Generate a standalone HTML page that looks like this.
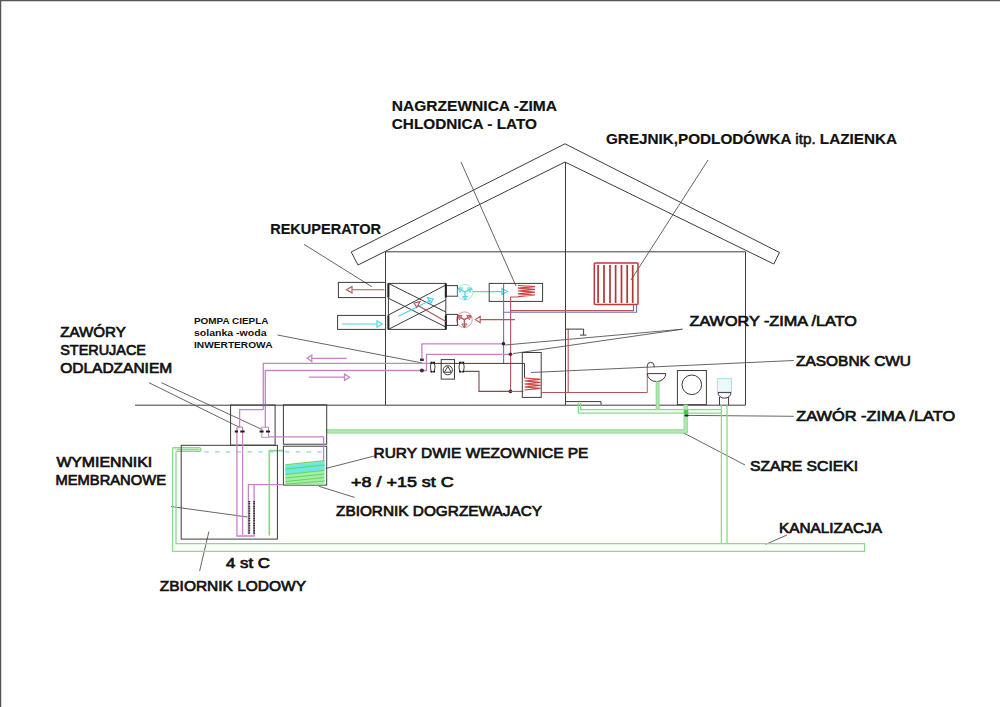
<!DOCTYPE html>
<html><head><meta charset="utf-8"><title>Schemat</title>
<style>
html,body{margin:0;padding:0;background:#fff;}
body{width:1000px;height:707px;overflow:hidden;}
svg{display:block;}
text{font-family:"Liberation Sans",sans-serif;fill:#111;}
.b{font-weight:bold;}
.t{font-size:14.8px;stroke:#111;stroke-width:0.7;}
.t.b{stroke-width:0.2;}
.s{font-size:8.6px;font-weight:bold;}
.k{stroke:#3c3c3c;stroke-width:1;fill:none;}
.l{stroke:#555;stroke-width:0.9;fill:none;}
.m{stroke:#c683c6;stroke-width:1.3;fill:none;}
.r{stroke:#b25656;stroke-width:1.1;fill:none;}
.c{stroke:#4fd8e0;stroke-width:1.2;fill:none;}
.u{stroke:#7070b0;stroke-width:1.1;fill:none;}
.g{stroke:#8cd88c;stroke-width:1.3;fill:none;}
</style></head>
<body>
<svg width="1000" height="707" viewBox="0 0 1000 707">
<rect x="0" y="0" width="1000" height="707" fill="#fff"/>
<!-- border -->
<path d="M0 0.6H1000M0.6 0V707" stroke="#555" stroke-width="1.3" fill="none"/>

<!-- roof -->
<path class="k" d="M351.2 252 L565 143.8 L779.5 252.5 L773.8 264 L565 162 L358 265 Z"/>
<!-- walls -->
<path class="k" d="M385.5 405V251.8H745.5V405M565.5 162V405"/>
<!-- ground -->
<path class="k" d="M135 405.2H745.5"/>

<!-- leaders -->
<g class="l">
<path d="M461 162L516 286"/>
<path d="M708 160L631 280"/>
<path d="M304 244.3L371.8 286.7"/>
<path d="M277.5 335L422.4 363"/>
<path d="M505.2 345L682.4 329.2M512.9 353.6L682.4 329.2"/>
<path d="M531 372.5L793.8 360.5"/>
<path d="M688 415.4L793.8 416.3"/>
<path d="M681.5 431.8L745 465"/>
<path d="M787 535L765.6 544.4"/>
<path d="M325.7 468.5L374.7 455.9"/>
<path d="M319 486.3L354.6 497.4"/>
<path d="M171 506.5L247.4 517"/>
<path d="M208.9 531.6L199.6 571.1"/>
<path d="M148.9 382.7L239.7 427.4M161.4 382.7L262.4 429.7"/>
</g>

<!-- rekuperator -->
<g class="k">
<rect x="338.4" y="282.4" width="47.2" height="15.2"/>
<rect x="337.6" y="315.4" width="48" height="14"/>
<rect x="388.4" y="283.4" width="57.4" height="46"/>
<path d="M388.4 283.4L445.8 312M388.4 298.2L445.8 327M388.4 315L445.8 285M388.4 329.4L445.8 300"/>
<rect x="446" y="285.6" width="11.4" height="10.6"/>
<rect x="446" y="314.4" width="11.4" height="11"/>
</g>
<path d="M388.4 283.4V297.6M388.4 315.4V329.4M445.8 283.4V297.6M445.8 315.4V329.4" stroke="#222" stroke-width="2" fill="none"/>
<!-- arrows in ducts -->
<path class="r" d="M352 289.8H384.4M352 286.6L346.5 289.8L352 293Z"/>
<path class="c" d="M342 324H377M377 320.8L382.2 324L377 327.2Z"/>
<path class="c" d="M398.4 316.2L431 300M427.6 297.6L433.2 298.8L430.6 303.6Z"/>
<path class="r" d="M445.8 321.6L418 305.4M420 301.6L414 303L416.8 307.4Z"/>
<!-- fans -->
<!-- fans -->
<circle cx="465.0" cy="292.2" r="7.8" fill="none" stroke="#5fd6de" stroke-width="0.8" opacity="0.75"/>
<path d="M465.0 292.2L458.25 288.30M465.0 292.2L471.75 288.30M465.0 292.2L465.00 300.00" stroke="#5fd6de" stroke-width="1.4" fill="none"/>
<path d="M458.25 288.30L462.58 287.80L459.98 292.31ZM471.75 288.30L470.02 292.31L467.42 287.80ZM465.00 300.00L462.40 296.49L467.60 296.49Z" stroke="#5fd6de" stroke-width="1" fill="none"/>
<circle cx="464.4" cy="319.7" r="7.8" fill="none" stroke="#b45a5a" stroke-width="0.8" opacity="0.75"/>
<path d="M464.4 319.7L457.65 315.80M464.4 319.7L471.15 315.80M464.4 319.7L464.40 327.50" stroke="#b45a5a" stroke-width="1.4" fill="none"/>
<path d="M457.65 315.80L461.98 315.30L459.38 319.81ZM471.15 315.80L469.42 319.81L466.82 315.30ZM464.40 327.50L461.80 323.99L467.00 323.99Z" stroke="#b45a5a" stroke-width="1" fill="none"/>
<path class="c" d="M472.8 291.6H502M502 288.6L507.2 291.6L502 294.6Z"/>
<path class="r" d="M480.2 319.6H515M480.2 316.4L475.4 319.6L480.2 322.8Z"/>

<!-- nagrzewnica -->
<rect class="k" x="489.2" y="283.4" width="53.4" height="18"/>
<path class="u" d="M503.6 283.8V363.4"/>
<path d="M518 285.5L535 286.6L518 288.2L535 289.4L518 291L535 292.2L518 293.8L535 295L518 296.6" stroke="#cc4040" stroke-width="1.2" fill="none"/>
<path class="r" d="M518 297H510.6V391.4"/>
<path class="r" d="M510.6 310.6H633.5V304.6"/>
<path class="u" d="M503.6 312.2H636.6V304.6"/>

<!-- radiator -->
<rect x="594.3" y="262.9" width="43.7" height="41.7" fill="none" stroke="#c03838" stroke-width="1.5" rx="1"/>
<path d="M598.1 265V303M604 265V303M610 265V303M615.6 265V303M621.5 265V303M627.2 265V303M632.7 265V303" stroke="#b83434" stroke-width="1.7"/>

<!-- pump area -->
<path class="m" d="M263.3 409.7V363.3H430"/>
<path class="m" d="M265.3 427.2V370.5H426.5V354.3H510.5"/>
<path class="m" d="M421.9 359.6V343.8H503.5"/>
<path class="m" d="M311.8 358.3H346.8M311.8 355L307.2 358.3L311.8 361.6Z"/>
<path class="m" d="M309 377.2H344.5M344.5 374.1L349.5 377.2L344.5 380.3Z"/>
<rect x="420" y="358.6" width="3.8" height="2.4" fill="#333"/>
<circle cx="421.9" cy="370.6" r="2" fill="#333"/>
<circle cx="503.5" cy="343.8" r="1.8" fill="#223"/>
<circle cx="510.5" cy="354.2" r="1.8" fill="#622"/>
<circle cx="510.5" cy="391.4" r="1.8" fill="#422"/>
<path class="k" d="M430 363.4H524.5V377.7"/>
<path d="M431.2 362.3Q429.6 367 431.2 371.8M434.2 362.3Q435.8 367 434.2 371.8M431.2 362.3H434.2M431.2 371.8H434.2" stroke="#444" stroke-width="1" fill="#fff"/>
<path d="M459.8 362.3Q458.2 367 459.8 371.8M463.4 362.3Q465 367 463.4 371.8M459.8 362.3H463.4M459.8 371.8H463.4" stroke="#444" stroke-width="1" fill="#fff"/>
<path d="M430.6 361.8h1.6v1.6h-1.6zM433.4 361.8h1.6v1.6h-1.6zM430.6 370.8h1.6v1.6h-1.6zM433.4 370.8h1.6v1.6h-1.6zM459.2 361.8h1.6v1.6h-1.6zM462.6 361.8h1.6v1.6h-1.6zM459.2 370.8h1.6v1.6h-1.6zM462.6 370.8h1.6v1.6h-1.6z" fill="#111"/>
<rect class="k" x="441.2" y="359.6" width="13.3" height="19.5" fill="#fff"/>
<circle class="k" cx="447.8" cy="370.2" r="4.6"/>
<path class="k" d="M447.8 366.4L451.2 372.2H444.4Z"/>
<path d="M464 371.4H479V391.4H510.6" stroke="#7e4a4e" stroke-width="1.1" fill="none"/>
<path class="r" d="M510.6 391.4H523.4"/>

<!-- zasobnik -->
<rect class="k" x="522.3" y="352.5" width="18.9" height="44.9"/>
<path d="M524.5 378L540.5 379.4L524.5 381L540.5 382.4L524.5 384L540.5 385.4L524.5 387L540.5 388.4L524.5 390" stroke="#cc4040" stroke-width="1.1" fill="none"/>
<path class="r" d="M541.2 392.5H647.3"/>
<path d="M647.3 392.5V367" stroke="#9a7a80" stroke-width="1.1" fill="none"/>
<path class="r" d="M568.2 329V392"/>
<path class="k" d="M565.7 329.1H583.6V335.1M580 335.1H586.4"/>
<path class="k" d="M565.7 401.6H601V404.7"/>

<!-- washbasin, washing machine, toilet -->
<path class="k" d="M647.3 367.5V365.8A3.4 3.4 0 0 1 654.1 365.8V367.3"/>
<path class="k" d="M647.3 373.6H665.8A9.25 8 0 0 1 647.3 373.6Z"/>
<rect class="k" x="677.4" y="370.5" width="29" height="34.2"/>
<circle class="k" cx="691.8" cy="384.8" r="9.8"/>
<rect x="717.4" y="378.7" width="14.1" height="13.3" fill="#e8fafc" stroke="#a4e4ec" stroke-width="1"/>
<path class="k" d="M718 392.6H731A6.5 5.6 0 0 1 718 392.6ZM719.5 397V405M728.6 397V405"/>

<!-- green pipes -->
<g class="g">
<path d="M578.3 403V413.1H721M580.7 403V409.7H721"/>
<path d="M657.6 381.6V409.7" stroke="#b2e8b2" stroke-width="3.2"/>
<path d="M656.2 381.6V409.7M659 381.6V409.7" stroke-width="1"/>
<path d="M685.7 404.7V431.4H326.7" stroke="#b6eab6" stroke-width="3.4"/>
<path d="M684.1 404.7V429.8H326.7M687.3 404.7V433H326.7" stroke-width="1"/>
<path d="M721.4 405V543.6M727 405V543.6"/>
<path d="M172.6 447.6V551.4H864.6V543.6H176V451.4"/>
<path d="M172.6 447.6H199A1.9 1.9 0 0 1 199 451.4H176" fill="#d4f4d4"/>
<path d="M177 449.6H199" stroke="#7cc88c" stroke-width="0.8"/>
<path d="M269.3 535.6V450.6H283.4" stroke-width="1.7"/>
</g>
<circle cx="686.1" cy="411.9" r="2.4" fill="#3fd23f"/>
<rect x="684.4" y="414.4" width="4.2" height="2.2" rx="1" fill="#1e1e1e"/>

<!-- underground boxes -->
<rect class="k" x="230.6" y="405" width="44.5" height="40.2"/>
<rect class="k" x="181.2" y="445.3" width="96.2" height="93.8"/>
<rect class="k" x="283.4" y="404.8" width="43.3" height="39.4"/>
<rect class="k" x="283.4" y="446.2" width="43.3" height="38.9"/>
<path d="M204.2 451.9H276.5M285 451.8H323" stroke="#8fd3dc" stroke-width="1.3" stroke-dasharray="4.5,6.3"/>
<!-- heating tank coil -->
<path d="M285.4 464.7L324.5 460.6V484.6H285.4Z" fill="#a6eda6"/>
<path d="M285.4 465.8L324.5 461.6V470.2L285.4 474.2Z" fill="#6fe6e6"/>
<path d="M285.4 464.7L324.5 460.6M285.4 469L324.5 465M285.4 474.5L324.5 470.4M285.4 478L324.5 474M285.4 481.5L324.5 477.5M285.4 484.2L324.5 481" stroke="#5fd85f" stroke-width="1" fill="none"/>
<!-- magenta underground -->
<path class="m" d="M263.3 409.7H239.6V427.2M236.9 427.2H242.6M236.9 427.2V536H254.1V484.8M242.6 427.2V535"/>
<path class="m" d="M268.5 436.9H323.6V460.6"/>
<path class="m" d="M283.4 484.6H248.4V534.2"/>
<rect x="261.8" y="427.2" width="6.7" height="10.1" fill="none" stroke="#c08ac0" stroke-width="1"/>
<!-- valves -->
<path d="M234.8 430.4H238V432.6H234.8ZM240.3 430.4H244.6V432.6H240.3ZM259.6 430.4H263.6V432.6H259.6ZM266 430.4H270V432.6H266Z" fill="#1a1a1a"/>
<!-- membrane -->
<path d="M249.3 501V534M254.1 501V534" stroke="#333" stroke-width="1.8" stroke-dasharray="1.2,0.5"/>

<!-- labels -->
<text class="t b" x="391.8" y="111" textLength="165.2" lengthAdjust="spacingAndGlyphs">NAGRZEWNICA -ZIMA</text>
<text class="t b" x="391.8" y="129" textLength="145.2" lengthAdjust="spacingAndGlyphs">CHLODNICA - LATO</text>
<text class="t b" x="606.0" y="144" textLength="291.0" lengthAdjust="spacingAndGlyphs">GREJNIK,PODLODÓWKA <tspan style="font-weight:normal;stroke-width:0.55">itp.</tspan> LAZIENKA</text>
<text class="t b" x="270.2" y="233.9" textLength="110.7" lengthAdjust="spacingAndGlyphs">REKUPERATOR</text>
<text class="s" x="194.0" y="324" textLength="74.5" lengthAdjust="spacingAndGlyphs">POMPA CIEPLA</text>
<text class="s" x="194.0" y="336.2" textLength="72.5" lengthAdjust="spacingAndGlyphs">solanka -woda</text>
<text class="s" x="194.0" y="348" textLength="78.5" lengthAdjust="spacingAndGlyphs">INWERTEROWA</text>
<text class="t" x="60.2" y="337.4" textLength="65.6" lengthAdjust="spacingAndGlyphs">ZAWÓRY</text>
<text class="t" x="60.2" y="355" textLength="85.8" lengthAdjust="spacingAndGlyphs">STERUJACE</text>
<text class="t" x="60.2" y="373" textLength="112.0" lengthAdjust="spacingAndGlyphs">ODLADZANIEM</text>
<text class="t" x="689.5" y="326.3" textLength="167.4" lengthAdjust="spacingAndGlyphs">ZAWORY -ZIMA /LATO</text>
<text class="t" x="796.1" y="365.8" textLength="114.9" lengthAdjust="spacingAndGlyphs">ZASOBNK CWU</text>
<text class="t" x="796.2" y="420.5" textLength="159.0" lengthAdjust="spacingAndGlyphs">ZAWÓR -ZIMA /LATO</text>
<text class="t" x="750.0" y="470.6" textLength="108.0" lengthAdjust="spacingAndGlyphs">SZARE SCIEKI</text>
<text class="t" x="779.0" y="533" textLength="103.0" lengthAdjust="spacingAndGlyphs">KANALIZACJA</text>
<text class="t" x="373.5" y="458" textLength="214.9" lengthAdjust="spacingAndGlyphs">RURY DWIE WEZOWNICE PE</text>
<text class="t" x="351.0" y="487.1" textLength="102.8" lengthAdjust="spacingAndGlyphs">+8 / +15 st C</text>
<text class="t" x="336.0" y="515.5" textLength="206.0" lengthAdjust="spacingAndGlyphs">ZBIORNIK DOGRZEWAJACY</text>
<text class="t" x="56.4" y="467" textLength="95.8" lengthAdjust="spacingAndGlyphs">WYMIENNIKI</text>
<text class="t" x="55.4" y="485.1" textLength="110.6" lengthAdjust="spacingAndGlyphs">MEMBRANOWE</text>
<text class="t" x="226.0" y="568.4" textLength="44.0" lengthAdjust="spacingAndGlyphs">4 st C</text>
<text class="t" x="159.8" y="590.6" textLength="146.2" lengthAdjust="spacingAndGlyphs">ZBIORNIK LODOWY</text>
</svg>
</body></html>
